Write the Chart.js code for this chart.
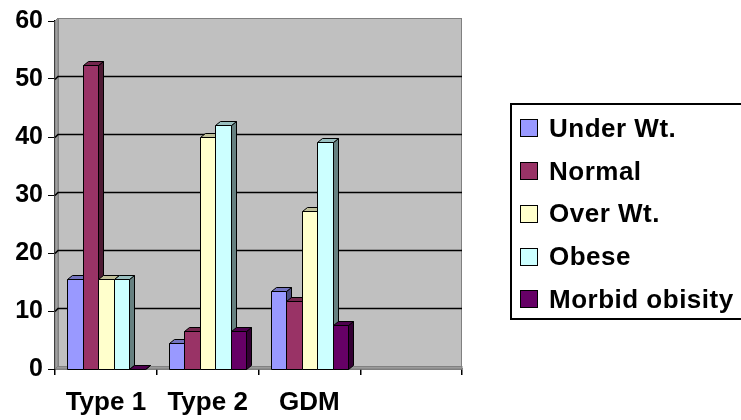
<!DOCTYPE html>
<html>
<head>
<meta charset="utf-8">
<script src="https://cdn.jsdelivr.net/npm/chart.js@4.4.1/dist/chart.umd.min.js"></script>
<style>
    html, body { margin: 0; padding: 0; background: #fff; }
    #wrap { position: relative; width: 741px; height: 420px; overflow: hidden; }
    #chart { position: absolute; left: 0; top: 0; }
    #legend {
        position: absolute; left: 510px; top: 103px; width: 250px; height: 217px;
        border: 2px solid #000; box-sizing: border-box; padding-top: 2px;
        font: bold 26px "Liberation Sans", Arial, sans-serif; letter-spacing: 0.5px; color: #000;
    }
    .item { display: flex; align-items: center; height: 42.75px; }
    .sw { width: 16px; height: 16px; border: 1px solid #000; margin: 0 11px 0 8px; flex: none; }
</style>
</head>
<body>
<div id="wrap">
    <canvas id="chart" width="741" height="420"></canvas>
    <div id="legend"></div>
</div>
<script>
const categories = ['Type 1', 'Type 2', 'GDM', ''];
const seriesNames = ['Under Wt.', 'Normal', 'Over Wt.', 'Obese', 'Morbid obisity'];
const underWt = [15.6, 4.4, 13.5, null];
const normal = [52.4, 6.6, 11.7, null];
const overWt = [15.6, 40, 27.2, null];
const obese = [15.6, 42, 39.2, null];
const morbid = [0, 6.6, 7.6, null];
const seriesColors = ['#9999FF', '#993366', '#FFFFCC', '#CCFFFF', '#660066'];
const yMin = 0;
const yMax = 60;
const yStep = 10;

const FONT = '"Liberation Sans", Arial, sans-serif';

function shade(hex, f) {
    const n = parseInt(hex.slice(1), 16);
    const r = Math.round(((n >> 16) & 255) * f);
    const g = Math.round(((n >> 8) & 255) * f);
    const b = Math.round((n & 255) * f);
    return `rgb(${r},${g},${b})`;
}

function poly(ctx, pts, fill) {
    ctx.beginPath();
    ctx.moveTo(pts[0][0], pts[0][1]);
    for (let i = 1; i < pts.length; i++) ctx.lineTo(pts[i][0], pts[i][1]);
    ctx.closePath();
    ctx.fillStyle = fill;
    ctx.fill();
    ctx.stroke();
}

// back wall, floor and gridlines, then 3D bars drawn in series order per category
const bars3d = {
    id: 'bars3d',
    beforeDatasetsDraw(chart) {
        const { ctx, chartArea: a, scales: { y } } = chart;
        const wx = 3;
        const wy = 3;
        ctx.save();
        ctx.lineWidth = 1;
        ctx.strokeStyle = '#808080';
        // left side wall
        poly(ctx, [[a.left, a.top], [a.left + wx, a.top - wy], [a.left + wx, a.bottom - wy], [a.left, a.bottom]], '#a0a0a0');
        // floor
        poly(ctx, [[a.left, a.bottom], [a.left + wx, a.bottom - wy], [a.right, a.bottom - wy], [a.right, a.bottom]], '#9a9a9a');
        // back wall
        ctx.fillStyle = '#c0c0c0';
        ctx.fillRect(a.left + wx, a.top - wy, a.right - a.left - wx, a.bottom - a.top);
        ctx.strokeRect(a.left + wx + 0.5, a.top - wy + 0.5, a.right - a.left - wx - 1, a.bottom - a.top);
        // gridlines
        ctx.strokeStyle = '#000';
        ctx.lineWidth = 1.6;
        for (let v = yMin + yStep; v < yMax; v += yStep) {
            const py = Math.round(y.getPixelForValue(v)) + 0.5;
            ctx.beginPath();
            ctx.moveTo(a.left, py);
            ctx.lineTo(a.left + wx, py - wy);
            ctx.lineTo(a.right, py - wy);
            ctx.stroke();
        }

        const dx = 5;
        const dy = 4;
        ctx.lineWidth = 1;
        ctx.strokeStyle = '#000';
        const nSeries = chart.data.datasets.length;
        for (let c = 0; c < chart.data.labels.length; c++) {
            for (let d = 0; d < nSeries; d++) {
                const v = chart.data.datasets[d].data[c];
                if (v == null) continue;
                const el = chart.getDatasetMeta(d).data[c];
                const col = seriesColors[d];
                const x0 = Math.round(el.x - el.width / 2) + 0.5;
                const x1 = Math.round(el.x + el.width / 2) + 0.5;
                const t = Math.round(el.y) + 0.5;
                const b = Math.round(el.base) + 0.5;
                // side
                poly(ctx, [[x1, t], [x1 + dx, t - dy], [x1 + dx, b - dy], [x1, b]], shade(col, 0.5));
                // top
                poly(ctx, [[x0, t], [x0 + dx, t - dy], [x1 + dx, t - dy], [x1, t]], shade(col, 0.75));
                // front
                if (b > t) poly(ctx, [[x0, t], [x1, t], [x1, b], [x0, b]], col);
            }
        }
        ctx.restore();
        return false;
    },
};

const seriesData = [underWt, normal, overWt, obese, morbid];

new Chart(document.getElementById('chart'), {
    type: 'bar',
    data: {
        labels: categories,
        datasets: seriesNames.map((name, i) => ({
            label: name,
            data: seriesData[i],
            backgroundColor: seriesColors[i],
            borderColor: '#000',
            borderWidth: 1,
            categoryPercentage: 0.76,
            barPercentage: 1.0,
        })),
    },
    options: {
        responsive: false,
        animation: false,
        layout: { padding: { left: 0, right: 279, top: 21, bottom: 0 } },
        plugins: {
            legend: { display: false },
            tooltip: { enabled: false },
        },
        scales: {
            y: {
                min: yMin,
                max: yMax,
                ticks: {
                    stepSize: yStep,
                    color: '#000',
                    padding: 5,
                    font: { family: FONT, size: 25, weight: 'bold' },
                },
                grid: { drawOnChartArea: false, drawTicks: true, tickLength: 7, color: '#000' },
                border: { display: true, color: '#000', width: 1.5 },
                afterFit(scale) { scale.width = 55; },
            },
            x: {
                ticks: {
                    color: '#000',
                    padding: 12,
                    font: { family: FONT, size: 26, weight: 'bold' },
                },
                grid: { offset: true, drawOnChartArea: false, drawTicks: true, tickLength: 6, color: '#000', lineWidth: 1.5 },
                border: { display: true, color: '#000', width: 1.5 },
                afterFit(scale) { scale.height = 51; },
            },
        },
    },
    plugins: [bars3d],
});

const legendEl = document.getElementById('legend');
seriesNames.forEach((name, i) => {
    const item = document.createElement('div');
    item.className = 'item';
    const sw = document.createElement('div');
    sw.className = 'sw';
    sw.style.background = seriesColors[i];
    const label = document.createElement('span');
    label.textContent = name;
    item.appendChild(sw);
    item.appendChild(label);
    legendEl.appendChild(item);
});
</script>
</body>
</html>
